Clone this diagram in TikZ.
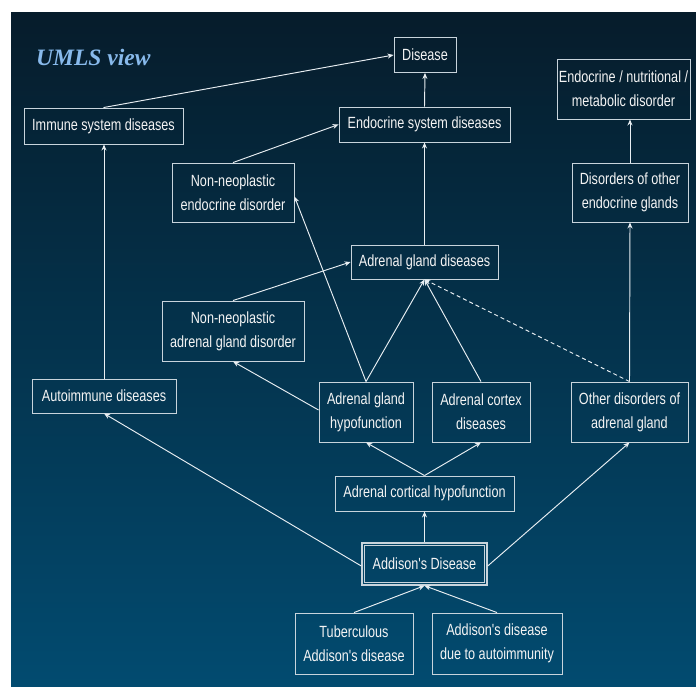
\documentclass[tikz,border=0pt]{standalone}
\usepackage{fontspec}
\usetikzlibrary{arrows.meta}
\newfontfamily\boxfont{Liberation Sans}[FakeStretch=0.78]
\newfontfamily\titlefont{Liberation Serif}
\definecolor{bgtop}{HTML}{061C2B}
\definecolor{bgbot}{HTML}{024B70}
\definecolor{boxline}{HTML}{C8D4DC}
\definecolor{txt}{HTML}{F4F4F4}
\definecolor{arr}{HTML}{E8EEF2}
\definecolor{ttl}{HTML}{88BAEC}
\begin{document}
\begin{tikzpicture}[x=1pt,y=-1pt,
  cbox/.style={draw=boxline,line width=0.9pt,inner sep=0pt,align=center,text=txt,
    font=\boxfont\fontsize{16.2}{24}\selectfont},
  link/.style={draw=arr,line width=0.95pt,-{Stealth[length=6pt,width=5pt]}},
  dlink/.style={link,dash pattern=on 4pt off 3pt}]
\useasboundingbox (0,0) rectangle (696,686);
\fill[white] (0,0) rectangle (696,686);
\shade[top color=bgtop,bottom color=bgbot] (11,12) rectangle (696,686);
\node[anchor=base west,inner sep=0pt,text=ttl,font=\titlefont\bfseries\itshape\fontsize{23.5}{28}\selectfont] (title) at (36,65) {UMLS view};
% nodes
\node[cbox,minimum width=62,minimum height=35] (disease) at (425,55) {Disease};
\node[cbox,minimum width=171,minimum height=35] (esd) at (424.5,124.5) {Endocrine system diseases};
\node[cbox,minimum width=133,minimum height=60] (enmd) at (623.5,89) {Endocrine / nutritional /\\metabolic disorder};
\node[cbox,minimum width=159,minimum height=36] (immune) at (103.5,126) {Immune system diseases};
\node[cbox,minimum width=122,minimum height=59] (nned) at (233,192.5) {Non-neoplastic\\endocrine disorder};
\node[cbox,minimum width=116,minimum height=59] (doeg) at (630,192.5) {Disorders of other\\endocrine glands};
\node[cbox,minimum width=147,minimum height=34] (agd) at (424.5,262) {Adrenal gland diseases};
\node[cbox,minimum width=142,minimum height=60] (nnagd) at (233,331) {Non-neoplastic\\adrenal gland disorder};
\node[cbox,minimum width=144,minimum height=34] (auto) at (104,396) {Autoimmune diseases};
\node[cbox,minimum width=94,minimum height=60] (agh) at (366,412) {Adrenal gland\\hypofunction};
\node[cbox,minimum width=98,minimum height=60] (acd) at (481,412) {Adrenal cortex\\diseases};
\node[cbox,minimum width=117,minimum height=60] (other) at (629.5,412) {Other disorders of\\adrenal gland};
\node[cbox,minimum width=179,minimum height=35] (ach) at (424.5,493.5) {Adrenal cortical hypofunction};
\node[cbox,line width=1.4pt,minimum width=125,minimum height=42] (add) at (424.5,564) {Addison's Disease};
\draw[boxline,line width=1.4pt] ([shift={(3pt,-3pt)}]add.north west) rectangle ([shift={(-3pt,3pt)}]add.south east);
\node[cbox,minimum width=118,minimum height=61] (tb) at (354,643.5) {Tuberculous\\Addison's disease};
\node[cbox,minimum width=130,minimum height=61] (aa) at (497,643.5) {Addison's disease\\due to autoimmunity};
% connectors
\draw[link] (immune.north) -- (disease.west);
\draw[link] (esd.north) -- (disease.south);
\draw[link] (nned.north) -- (esd.west);
\draw[link] (agd.north) -- (esd.south);
\draw[link] (doeg.north) -- (doeg.north |- enmd.south);
\draw[link] (nnagd.north) -- (agd.west);
\draw[link] (agh.north) -- ([yshift=-4pt]nned.east);
\draw[link] (agh.north) -- (agd.south);
\draw[link] (acd.north) -- (agd.south);
\draw[dlink] (other.north) -- (agd.south);
\draw[link] (other.north) -- (doeg.south);
\draw[link] ([yshift=2pt]agh.west) -- (nnagd.south);
\draw[link] (auto.north) -- (auto.north |- immune.south);
\draw[link] ([yshift=-2pt]add.west) -- (auto.south);
\draw[link] ([yshift=-2pt]add.east) -- (other.south);
\draw[link] (add.north) -- (ach.south);
\draw[link] (ach.north) -- (agh.south);
\draw[link] (ach.north) -- (acd.south);
\draw[link] (tb.north) -- (add.south);
\draw[link] (aa.north) -- (add.south);
\end{tikzpicture}
\end{document}
